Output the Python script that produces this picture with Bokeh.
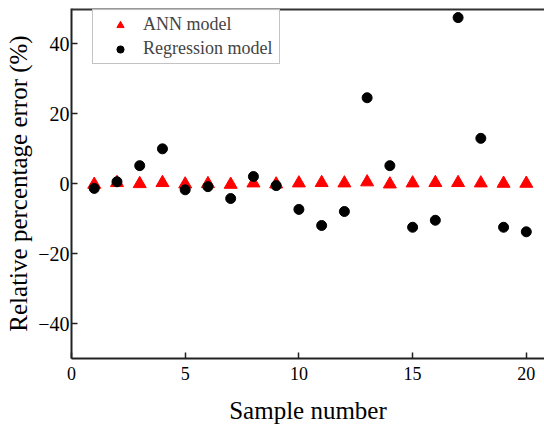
from bokeh.plotting import figure
from bokeh.models import Span, Legend, LegendItem
from bokeh.embed import file_html
from bokeh.resources import INLINE

samples = list(range(1, 21))
ann = [-0.3, 0.2, -0.1, 0.2, -0.2, -0.1, -0.3, 0.1, -0.2, 0.1, 0.2, 0.1, 0.4, -0.2, 0.1, 0.2, 0.2, 0.1, 0.0, 0.0]
regression = [-1.4, 0.5, 5.1, 9.9, -1.8, -0.9, -4.3, 2.0, -0.6, -7.4, -12.0, -8.0, 24.5, 5.1, -12.5, -10.5, 47.4, 12.9, -12.5, -13.8]
x_ticks = [0, 5, 10, 15, 20]
y_ticks = [-40, -20, 0, 20, 40]

FONT = "Liberation Serif"

p = figure(width=544, height=427, x_range=(0, 20.8), y_range=(-50, 50),
           output_backend="svg", toolbar_location=None,
           min_border_left=71, min_border_right=0, min_border_top=8, min_border_bottom=69)
p.grid.visible = False
p.outline_line_color = None
p.background_fill_color = "white"

r_ann = p.scatter(samples, ann, marker="triangle", size=13, color="red", line_color="red")
r_reg = p.scatter(samples, regression, marker="circle", size=10, color="black")

for ax in (p.xaxis[0], p.yaxis[0]):
    ax.axis_line_width = 2
    ax.axis_line_color = "#222222"
    ax.major_tick_line_color = "#222222"
    ax.minor_tick_line_color = "#222222"
    ax.major_tick_line_width = 1.5
    ax.minor_tick_line_width = 1.5
    ax.major_tick_in = 6
    ax.major_tick_out = 0
    ax.minor_tick_in = 4
    ax.minor_tick_out = 0
    ax.major_label_text_font = FONT
    ax.major_label_text_color = "black"
    ax.axis_label_text_font = FONT
    ax.axis_label_text_font_size = "25px"
    ax.axis_label_text_font_style = "normal"
    ax.axis_label_text_color = "black"

p.xaxis.major_label_text_font_size = "18px"
p.yaxis.major_label_text_font_size = "20px"
p.xaxis.ticker = x_ticks
p.yaxis.ticker = y_ticks
p.xaxis[0].ticker.num_minor_ticks = 2
p.yaxis[0].ticker.num_minor_ticks = 2
p.xaxis.axis_label = "Sample number"
p.yaxis.axis_label = "Relative percentage error (%)"
p.xaxis.major_label_standoff = 8
p.xaxis.axis_label_standoff = 14
p.yaxis.major_label_standoff = 2
p.yaxis.axis_label_standoff = 3

top = Span(location=p.y_range.end, dimension="width", line_color="#333333", line_width=4)
p.add_layout(top)

legend = Legend(items=[LegendItem(label="ANN model", renderers=[r_ann]),
                       LegendItem(label="Regression model", renderers=[r_reg])],
                location=(21, 294))
legend.label_text_font = FONT
legend.label_text_font_size = "18px"
legend.label_text_line_height = 1.0
legend.label_height = 18
legend.glyph_height = 18
legend.label_width = 132
legend.border_line_color = "#888888"
legend.border_line_width = 1
legend.margin = 0
legend.padding = 4
legend.spacing = 3
legend.glyph_width = 46
legend.label_standoff = 0
p.add_layout(legend, "center")

open("out.html", "w").write(file_html(p, INLINE))
